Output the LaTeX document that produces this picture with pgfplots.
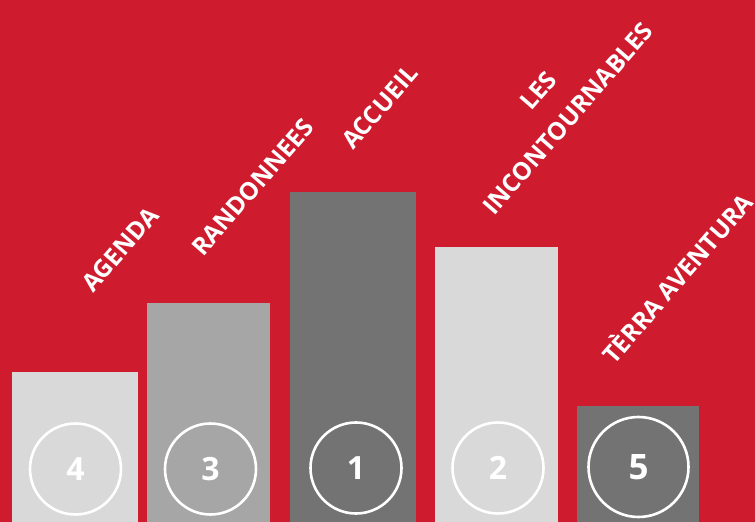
\documentclass[border=0pt]{standalone}
\usepackage{pgfplots}
\pgfplotsset{compat=1.18}
\usepackage{fontspec}
\setmainfont{Open Sans}
\newfontfamily\numfont{Open Sans}
\definecolor{bgred}{RGB}{207,27,46}
\definecolor{glight}{RGB}{217,217,217}
\definecolor{gmid}{RGB}{166,166,166}
\definecolor{gdark}{RGB}{115,115,115}
\begin{document}
\begin{tikzpicture}
\begin{axis}[
  width=755pt, height=522pt, scale only axis,
  xmin=0, xmax=755, ymin=0, ymax=522,
  axis background/.style={fill=bgred},
  axis line style={draw=none},
  ticks=none, clip=false,
]
\addplot[ybar, bar shift=0pt, bar width=126, fill=glight, draw=none] coordinates {(75,150)};
\addplot[ybar, bar shift=0pt, bar width=123, fill=gmid, draw=none] coordinates {(208.5,219)};
\addplot[ybar, bar shift=0pt, bar width=126, fill=gdark, draw=none] coordinates {(353,330)};
\addplot[ybar, bar shift=0pt, bar width=123, fill=glight, draw=none] coordinates {(496.5,275)};
\addplot[ybar, bar shift=0pt, bar width=122, fill=gdark, draw=none] coordinates {(638,116)};
% rank circles
\addplot[only marks, mark=o, mark size=45.5pt, mark options={draw=white, line width=2.6pt},
  point meta=explicit symbolic, nodes near coords,
  every node near coord/.append style={anchor=center, text=white, font=\numfont\bfseries\fontsize{32}{32}\selectfont}]
  coordinates {(75.5,53) [4] (210.5,53) [3] (356,54) [1] (498,54) [2]};
\addplot[only marks, mark=o, mark size=50pt, mark options={draw=white, line width=2.6pt},
  point meta=explicit symbolic, nodes near coords,
  every node near coord/.append style={anchor=center, text=white, font=\numfont\bfseries\fontsize{35}{35}\selectfont}]
  coordinates {(638.5,55) [5]};
% labels
\begin{scope}[every node/.style={anchor=base west, rotate=49, text=white, inner sep=0pt, font=\bfseries\fontsize{24.5}{24.5}\selectfont}]
\node at (axis cs:93,228) {AGENDA};
\node at (axis cs:203,264) {RANDONNEES};
\node at (axis cs:353,371) {ACCUEIL};
\node at (axis cs:531,410) {LES};
\node at (axis cs:494,305) {INCONTOURNABLES};
\node at (axis cs:614,156) {TÈRRA AVENTURA};
\end{scope}
\end{axis}
\pgfresetboundingbox
\path (current axis.south west) rectangle (current axis.north east);
\end{tikzpicture}
\end{document}
